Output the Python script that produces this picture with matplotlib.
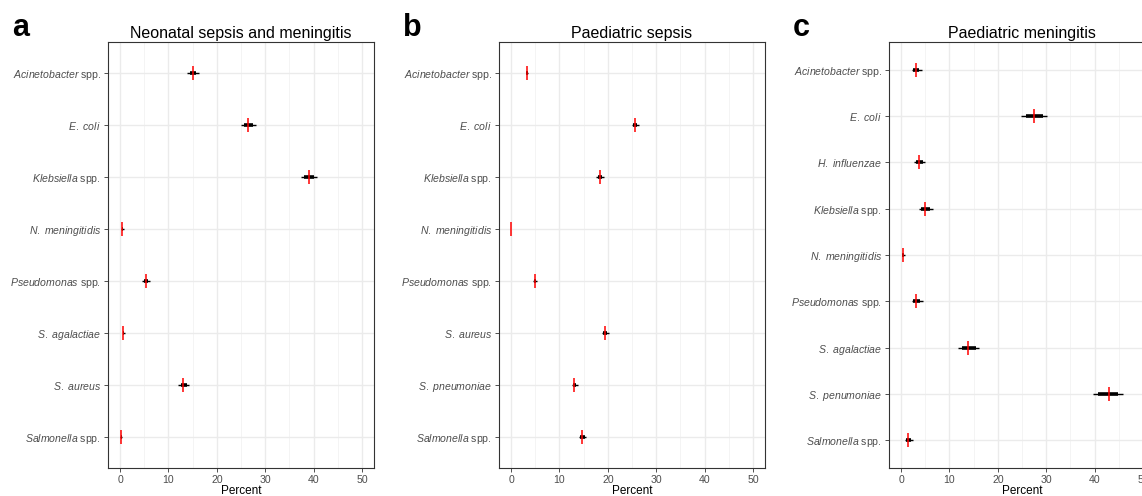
import matplotlib
matplotlib.use('Agg')
import matplotlib.pyplot as plt
import numpy as np

plt.rcParams['font.family'] = ['Liberation Sans', 'DejaVu Sans']
plt.rcParams['mathtext.fontset'] = 'custom'
plt.rcParams['mathtext.rm'] = 'Liberation Sans'
plt.rcParams['mathtext.it'] = 'Liberation Sans:italic'

# panel a - neonatal sepsis and meningitis
neo_names = ['Acinetobacter spp.', 'E. coli', 'Klebsiella spp.', 'N. meningitidis',
             'Pseudomonas spp.', 'S. agalactiae', 'S. aureus', 'Salmonella spp.']
neo_med = [15.0, 26.5, 39.0, 0.4, 5.3, 0.7, 13.1, 0.2]
neo_lo95 = [13.9, 25.0, 37.4, 0.2, 4.6, 0.5, 12.0, 0.05]
neo_hi95 = [16.3, 28.1, 40.7, 0.8, 6.2, 1.0, 14.3, 0.35]
neo_lo66 = [14.4, 25.7, 38.0, 0.3, 4.9, 0.6, 12.5, 0.1]
neo_hi66 = [15.7, 27.4, 40.0, 0.6, 5.8, 0.85, 13.8, 0.3]

# panel b - paediatric sepsis
sep_names = ['Acinetobacter spp.', 'E. coli', 'Klebsiella spp.', 'N. meningitidis',
             'Pseudomonas spp.', 'S. aureus', 'S. pneumoniae', 'Salmonella spp.']
sep_med = [3.2, 25.6, 18.3, 0.0, 4.9, 19.4, 13.1, 14.7]
sep_lo95 = [3.0, 24.9, 17.6, 0.0, 4.6, 18.7, 12.5, 14.0]
sep_hi95 = [3.5, 26.5, 19.2, 0.05, 5.3, 20.2, 13.8, 15.5]
sep_lo66 = [3.1, 25.2, 17.9, 0.0, 4.7, 19.0, 12.8, 14.3]
sep_hi66 = [3.4, 26.1, 18.8, 0.03, 5.1, 19.9, 13.5, 15.2]

# panel c - paediatric meningitis
men_names = ['Acinetobacter spp.', 'E. coli', 'H. influenzae', 'Klebsiella spp.',
             'N. meningitidis', 'Pseudomonas spp.', 'S. agalactiae', 'S. penumoniae',
             'Salmonella spp.']
men_med = [3.0, 27.5, 3.7, 5.0, 0.3, 3.1, 13.9, 43.0, 1.45]
men_lo95 = [2.2, 24.7, 2.6, 3.7, 0.1, 2.2, 11.8, 39.6, 0.9]
men_hi95 = [4.3, 30.2, 5.0, 6.5, 0.8, 4.5, 16.2, 45.9, 2.5]
men_lo66 = [2.5, 25.8, 3.0, 4.2, 0.2, 2.5, 12.5, 40.8, 1.1]
men_hi66 = [3.8, 29.4, 4.5, 6.0, 0.6, 4.0, 15.5, 44.8, 2.1]

W, H = 1142, 496


def label_fmt(name):
    if name.endswith(' spp.'):
        return r'$\mathit{' + name[:-5] + '}$ spp.'
    return r'$\mathit{' + name.replace(' ', r'\ ') + '}$'


def panel(left, names, med, lo95, hi95, lo66, hi66, title, letter):
    ax = fig.add_axes([left / W, (H - 468) / H, 266 / W, 426 / H])
    n = len(names)
    y = np.arange(1, n + 1)
    ax.hlines(y, lo95, hi95, color='black', lw=1.0, zorder=3)
    ax.hlines(y, lo66, hi66, color='black', lw=2.6, zorder=3)
    ax.plot(med, y, ls='none', marker='|', color='red', ms=10, mew=1.1, zorder=4)
    ax.set_xlim(-2.5, 52.5)
    ax.set_ylim(n + 0.6, 0.4)
    ax.set_xticks(np.arange(0, 51, 10))
    ax.set_xticks(np.arange(5, 51, 10), minor=True)
    ax.set_yticks(y)
    ax.set_yticklabels([label_fmt(s) for s in names])
    ax.grid(True, which='major', color='#EBEBEB', lw=1.0, zorder=0)
    ax.grid(True, which='minor', axis='x', color='#F2F2F2', lw=0.6, zorder=0)
    ax.set_axisbelow(True)
    ax.tick_params(axis='both', which='major', length=3, width=0.6, color='#333333',
                   labelsize=7.6, labelcolor='#4D4D4D', pad=2)
    ax.tick_params(axis='x', which='minor', length=0)
    for sp in ax.spines.values():
        sp.set_color('#333333')
        sp.set_linewidth(0.8)
    ax.set_xlabel('Percent', fontsize=8.5, labelpad=0)
    ax.set_title(title, fontsize=11.5, pad=3)
    fig.text((left - 96) / W, 1 - 36 / H, letter, fontsize=22, fontweight='bold')
    return ax


fig = plt.figure(figsize=(W / 100, H / 100), dpi=100)
panel(108, neo_names, neo_med, neo_lo95, neo_hi95, neo_lo66, neo_hi66,
      'Neonatal sepsis and meningitis', 'a')
panel(499, sep_names, sep_med, sep_lo95, sep_hi95, sep_lo66, sep_hi66,
      'Paediatric sepsis', 'b')
panel(889, men_names, men_med, men_lo95, men_hi95, men_lo66, men_hi66,
      'Paediatric meningitis', 'c')
fig.savefig('out.png', dpi=100)
